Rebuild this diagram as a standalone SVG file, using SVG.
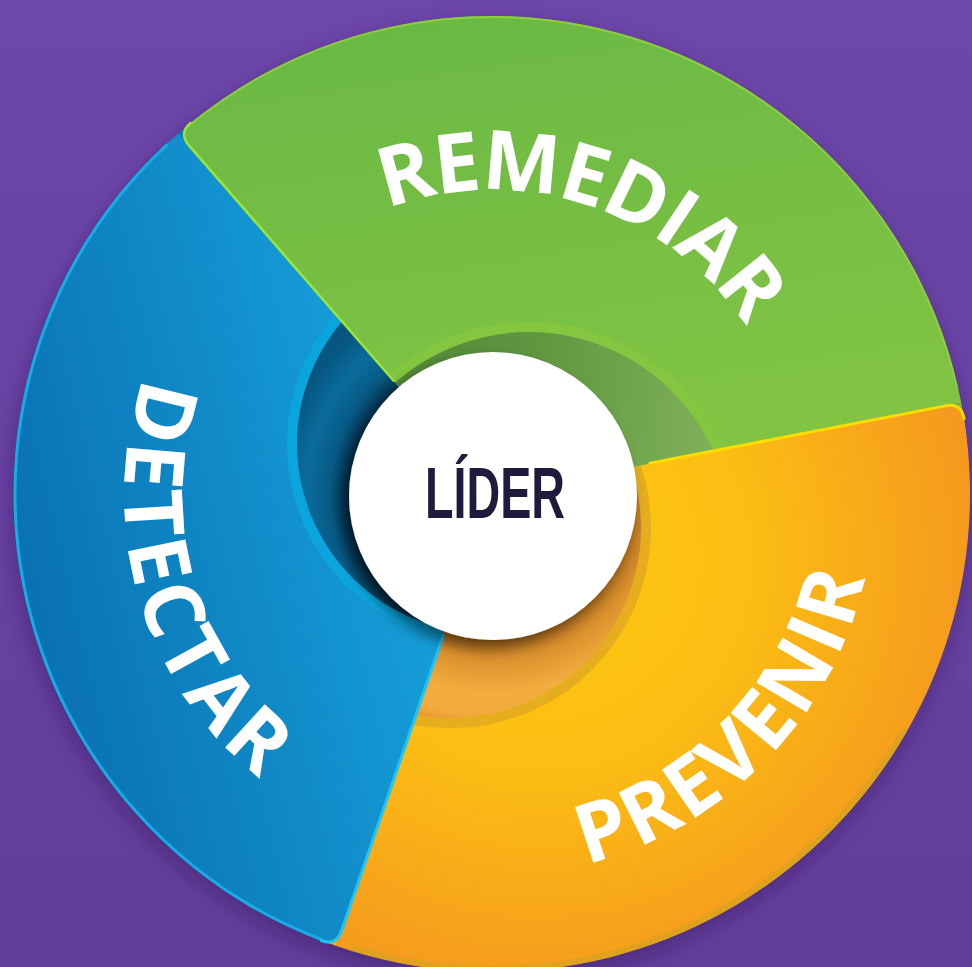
<svg xmlns="http://www.w3.org/2000/svg" width="972" height="967" viewBox="0 0 972 967">
<style>
.lbl { font-family: 'Open Sans', 'DejaVu Sans', sans-serif; font-weight: 700; font-size: 82px; fill: #ffffff; }
.ctr { font-family: 'Liberation Sans', Arial, sans-serif; font-weight: 700; font-size: 72px; fill: #1f1b3d; }
.edge { fill: none; stroke-linecap: round; }
</style>
<defs>
  <linearGradient id="bg" x1="0" y1="0" x2="0" y2="1">
    <stop offset="0" stop-color="#6d47a9"/>
    <stop offset="1" stop-color="#623e9a"/>
  </linearGradient>
  <filter id="discShadow" x="-20%" y="-20%" width="140%" height="140%">
    <feGaussianBlur stdDeviation="9"/>
  </filter>
  <filter id="circShadow" x="-30%" y="-30%" width="160%" height="160%">
    <feDropShadow dx="-6" dy="8" stdDeviation="7" flood-color="#000" flood-opacity="0.5"/>
  </filter>
  <linearGradient id="gGreen" gradientUnits="userSpaceOnUse" x1="492" y1="16" x2="560" y2="470">
    <stop offset="0" stop-color="#6bb945"/>
    <stop offset="1" stop-color="#82c442"/>
  </linearGradient>
  <radialGradient id="gOrange" gradientUnits="userSpaceOnUse" cx="540" cy="560" r="460">
    <stop offset="0" stop-color="#fdc80f"/>
    <stop offset="0.45" stop-color="#fbbe13"/>
    <stop offset="1" stop-color="#f4961f"/>
  </radialGradient>
  <linearGradient id="gBlue" gradientUnits="userSpaceOnUse" x1="20" y1="560" x2="430" y2="460">
    <stop offset="0" stop-color="#0a72b2"/>
    <stop offset="1" stop-color="#16a2dc"/>
  </linearGradient>
  <linearGradient id="hGreen" gradientUnits="userSpaceOnUse" x1="330" y1="400" x2="720" y2="440">
    <stop offset="0" stop-color="#4f8236"/>
    <stop offset="0.5" stop-color="#5f9640"/>
    <stop offset="1" stop-color="#80b259"/>
  </linearGradient>
  <radialGradient id="hBlue" gradientUnits="userSpaceOnUse" cx="493" cy="496" r="215">
    <stop offset="0.67" stop-color="#03324d"/>
    <stop offset="0.76" stop-color="#075a85"/>
    <stop offset="0.87" stop-color="#0a6c9c"/>
    <stop offset="1" stop-color="#065680"/>
  </radialGradient>
  <radialGradient id="hOrange" gradientUnits="userSpaceOnUse" cx="493" cy="496" r="235">
    <stop offset="0.6" stop-color="#b9741f"/>
    <stop offset="0.7" stop-color="#dc922e"/>
    <stop offset="0.84" stop-color="#f2ad3e"/>
    <stop offset="0.94" stop-color="#f2aa3c"/>
    <stop offset="1" stop-color="#e4902c"/>
  </radialGradient>
  <clipPath id="cGreen"><path d="M 492 494 L 178.40 133.25 A 478 478 0 0 1 961.22 402.79 Z"/></clipPath>
  <clipPath id="cOrange"><path d="M 492 494 L 961.22 402.79 A 478 478 0 0 1 336.38 945.96 Z"/></clipPath>
  <clipPath id="cBlue"><path d="M 492 494 L 336.38 945.96 A 478 478 0 0 1 178.40 133.25 Z"/></clipPath>
  <path id="pRemediar" d="M 288.58 268.09 A 304 304 0 0 1 789.36 430.79"/>
  <path id="pDetectar" d="M 227.24 242.75 A 362 362 0 0 0 406.79 848.92"/>
  <path id="pPrevenir" d="M 399.59 864.65 A 382 382 0 0 0 859.20 388.71"/>
</defs>

<rect width="972" height="967" fill="url(#bg)"/>
<circle cx="490" cy="502" r="480" fill="#2a1050" opacity="0.35" filter="url(#discShadow)"/>

<g id="underlays">
  <path d="M 492 494 L 178.40 133.25 A 478 478 0 0 1 204.33 112.25 Z" fill="#0a78b8"/>
  <path d="M 492 494 L 961.22 402.79 A 478 478 0 0 1 966.44 435.75 Z" fill="#7cc143"/>
  <path d="M 492 494 L 336.38 945.96 A 478 478 0 0 1 305.23 934.0 Z" fill="#f7a71c"/>
</g>

<g id="detectar">
  <path d="M 492 494 L 341.59 930.83 Q 336.38 945.96 321.34 940.50 A 478 478 0 0 1 178.40 133.25 Z" fill="url(#gBlue)"/>
  <g clip-path="url(#cBlue)">
    <circle cx="486" cy="444" r="199" fill="#0ba5dd"/>
    <circle cx="486" cy="444" r="189" fill="url(#hBlue)"/>
  </g>
  <text class="lbl" letter-spacing="5"><textPath href="#pDetectar" startOffset="50%" text-anchor="middle">DETECTAR</textPath></text>
</g>

<g id="prevenir">
  <path d="M 492 494 L 945.51 405.85 Q 961.22 402.79 964.01 418.56 A 478 478 0 0 1 336.38 945.96 Z" fill="url(#gOrange)"/>
  <path class="edge" d="M 903.36 731.5 A 475 475 0 0 1 353.12 948.24" stroke="#d9a21f" stroke-width="6" opacity="0.8"/>
  <g clip-path="url(#cOrange)">
    <circle cx="451" cy="528" r="200" fill="#e6ad1f"/>
    <circle cx="451" cy="528" r="190" fill="url(#hOrange)"/>
  </g>
  <text class="lbl" letter-spacing="3"><textPath href="#pPrevenir" startOffset="50%" text-anchor="middle">PREVENIR</textPath></text>
</g>

<g id="remediar">
  <path d="M 492 494 L 188.90 145.32 Q 178.40 133.25 190.55 123.03 A 478 478 0 0 1 961.22 402.79 Z" fill="url(#gGreen)"/>
  <g clip-path="url(#cGreen)">
    <circle cx="529" cy="534" r="212" fill="#84c63f"/>
    <circle cx="529" cy="534" r="202" fill="url(#hGreen)"/>
  </g>
  <text class="lbl" letter-spacing="-2"><textPath href="#pRemediar" startOffset="50%" text-anchor="middle">REMEDIAR</textPath></text>
</g>

<g id="segment-edges">
  <path class="edge" d="M 166.69 145.15 A 477 477 0 0 0 321.06 939.32" stroke="#15ade6" stroke-width="3"/>
  <path class="edge" d="M 191.81 123.30 A 477 477 0 0 1 956.77 386.70" stroke="#8ccf3a" stroke-width="2"/>
  <path class="edge" d="M 393.6 380.8 L 188.90 145.32 Q 178.40 133.25 190.55 123.03" stroke="#9be53a" stroke-width="2.5"/>
  <path class="edge" d="M 650 463.3 L 945.51 405.85 Q 961.22 402.79 964.01 418.56" stroke="#ffdc00" stroke-width="3"/>
  <path class="edge" d="M 443.2 635.8 L 341.59 930.83 Q 336.38 945.96 321.34 940.50" stroke="#1ec6f5" stroke-width="3"/>
</g>

<g id="lider">
  <circle cx="493" cy="496" r="144" fill="#ffffff" filter="url(#circShadow)"/>
  <text class="ctr" x="425" y="518" textLength="140" lengthAdjust="spacingAndGlyphs">LÍDER</text>
</g>
</svg>
